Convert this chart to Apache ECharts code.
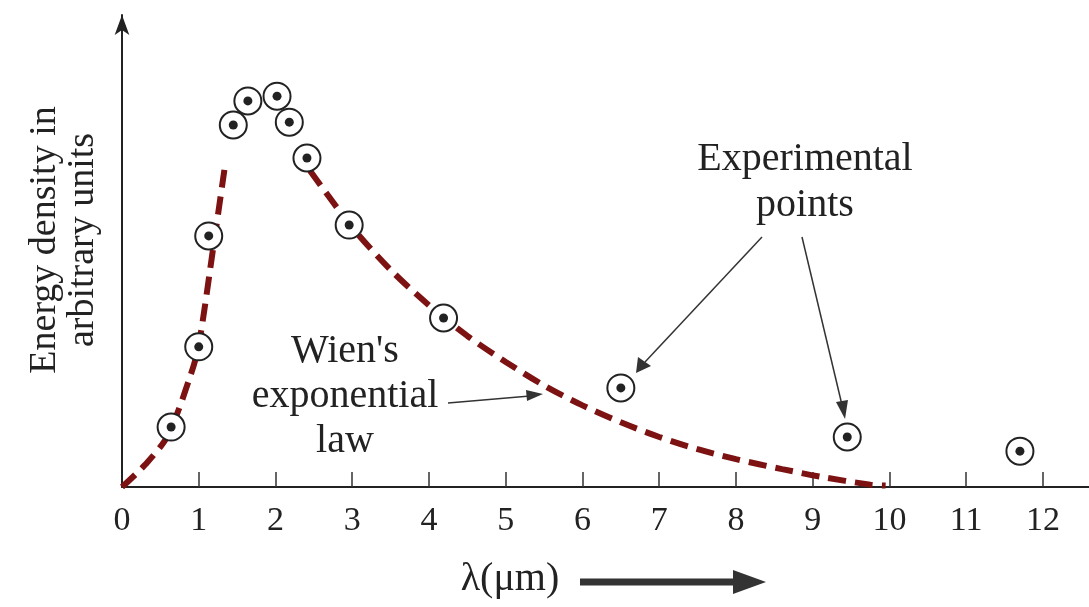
<!DOCTYPE html>
<html>
<head>
<meta charset="utf-8">
<script src="https://cdn.jsdelivr.net/npm/echarts@6/dist/echarts.min.js"></script>
<style>
  html, body { margin: 0; padding: 0; background: #fff; }
  #chart { width: 1089px; height: 607px; }
</style>
</head>
<body>
<div id="chart"></div>
<script>
// tick labels on the wavelength axis (µm)
const tickLabels = [0, 1, 2, 3, 4, 5, 6, 7, 8, 9, 10, 11, 12];
const tickMarks = [1, 2, 3, 4, 5, 6, 7, 8, 9, 10, 11, 12];

// experimental points (x in µm, y in arbitrary units)
const expX = [0.64, 1.0, 1.13, 1.45, 1.64, 2.02, 2.18, 2.41, 2.96, 4.19, 6.5, 9.45, 11.7];
const expY = [12.7, 29.7, 53.2, 76.7, 81.8, 82.8, 77.3, 69.7, 55.5, 35.8, 21.0, 10.6, 7.6];

// Wien's exponential law curve (dashed), '-' leaves the gap under the peak points
const wienX = [0, 0.3, 0.6, 0.9, 1.0, 1.2, 1.35, 1.9, 2.45, 3.0, 3.5, 4.0, 4.5, 5.0, 5.5, 6.0, 6.5, 7.0, 7.5, 8.0, 8.6, 9.1, 9.75, 9.95];
const wienY = [0, 4.7, 11, 24, 30, 52, 69, '-', 67, 55, 46, 38.5, 32, 26.5, 21.5, 17.3, 13.7, 10.6, 8.0, 5.9, 3.8, 2.2, 0.5, 0.3];

const serif = '"Liberation Serif", "DejaVu Serif", serif';
const ink = '#222';

let chart = echarts.init(document.getElementById('chart'));

const expData = expX.map((x, i) => [x, expY[i]]);
const wienData = wienX.map((x, i) => [x, wienY[i]]);

chart.setOption({
  animation: false,
  backgroundColor: '#fff',
  grid: { left: 122, right: 0, top: 15, bottom: 120 },
  xAxis: {
    type: 'value',
    min: 0,
    max: 12.6,
    axisLine: { show: true, lineStyle: { color: ink, width: 2 } },
    axisTick: {
      show: true, inside: true, length: 15,
      customValues: tickMarks,
      lineStyle: { color: '#333', width: 1.5 }
    },
    axisLabel: {
      customValues: tickLabels,
      margin: 17,
      fontFamily: serif, fontSize: 34, color: ink
    },
    splitLine: { show: false }
  },
  yAxis: {
    type: 'value',
    min: 0,
    max: 100,
    axisLine: {
      show: true,
      symbol: ['none', 'arrow'],
      symbolSize: [11, 20],
      lineStyle: { color: ink, width: 2 }
    },
    axisTick: { show: false },
    axisLabel: { show: false },
    splitLine: { show: false }
  },
  series: [
    {
      name: "Wien's exponential law",
      type: 'line',
      data: wienData,
      smooth: 0.3,
      showSymbol: false,
      connectNulls: false,
      lineStyle: { color: '#7d1212', width: 6, type: [18, 9] },
      z: 2
    },
    {
      name: 'Experimental points',
      type: 'scatter',
      data: expData,
      symbol: 'circle',
      symbolSize: 27,
      itemStyle: { color: '#fff', borderColor: ink, borderWidth: 2, opacity: 1 },
      z: 3
    },
    {
      name: 'Experimental points (centre)',
      type: 'scatter',
      data: expData,
      symbol: 'circle',
      symbolSize: 9,
      itemStyle: { color: ink, opacity: 1 },
      z: 4
    }
  ],
  graphic: [
    {
      type: 'text', x: 64, y: 240, rotation: Math.PI / 2,
      style: {
        text: 'Energy density in\narbitrary units',
        font: '38px ' + serif, fill: ink,
        align: 'center', verticalAlign: 'middle', lineHeight: 38
      }
    },
    {
      type: 'text', x: 510, y: 579,
      style: {
        text: 'λ(μm)', font: '40px ' + serif, fill: ink,
        align: 'center', verticalAlign: 'middle'
      }
    },
    { type: 'line', shape: { x1: 580, y1: 582, x2: 736, y2: 582 }, style: { stroke: '#333', lineWidth: 7 } },
    { type: 'polygon', shape: { points: [[733, 570], [766, 582], [733, 594]] }, style: { fill: '#333' } },
    {
      type: 'text', x: 345, y: 396,
      style: {
        text: "Wien's\nexponential\nlaw", font: '40px ' + serif, fill: ink,
        align: 'center', verticalAlign: 'middle', lineHeight: 45
      }
    },
    { type: 'line', shape: { x1: 448, y1: 403, x2: 530, y2: 396 }, style: { stroke: '#333', lineWidth: 1.5 } },
    { type: 'polygon', shape: { points: [[526, 390], [543, 394], [527, 401]] }, style: { fill: '#333' } },
    {
      type: 'text', x: 805, y: 182,
      style: {
        text: 'Experimental\npoints', font: '40px ' + serif, fill: ink,
        align: 'center', verticalAlign: 'middle', lineHeight: 46
      }
    },
    { type: 'line', shape: { x1: 762, y1: 237, x2: 645, y2: 362 }, style: { stroke: '#333', lineWidth: 1.5 } },
    { type: 'polygon', shape: { points: [[638, 357], [636, 373], [651, 366]] }, style: { fill: '#333' } },
    { type: 'line', shape: { x1: 802, y1: 237, x2: 842, y2: 405 }, style: { stroke: '#333', lineWidth: 1.5 } },
    { type: 'polygon', shape: { points: [[836, 402], [845, 419], [848, 400]] }, style: { fill: '#333' } }
  ]
});
</script>
</body>
</html>
